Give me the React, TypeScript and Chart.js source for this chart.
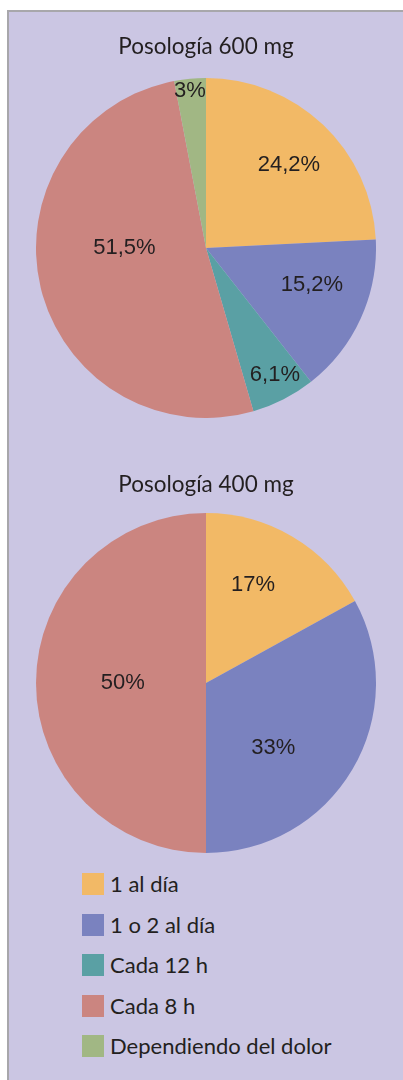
import React, { useEffect, useRef } from "react";
import { Chart, registerables } from "chart.js";

Chart.register(...registerables);

// ---- data ----
const categories = ["1 al día", "1 o 2 al día", "Cada 12 h", "Cada 8 h", "Dependiendo del dolor"];
const values600 = [24.2, 15.2, 6.1, 51.5, 3];
const values400 = [17, 33, 0, 50, 0];
const title600 = "Posología 600 mg";
const title400 = "Posología 400 mg";

// ---- style ----
const colors = ["#f2b966", "#7a82bf", "#5aa0a4", "#cb8580", "#a1b784"];
const textColor = "#231f20";
const bgColor = "#cbc6e3";
// label placement (fraction of radius, angular shift in degrees) – mimics "best fit"
const labelRadius600 = [0.69, 0.66, 0.85, 0.48, 0.93];
const labelShift600 = [1.4, -5.3, -1.3, 13.5, -0.4];
const labelRadius400 = [0.64, 0.55, 0.5, 0.49, 0.5];
const labelShift400 = [-5, 13.4, 0, 0, 0];

const fmt = (v: number) => String(v).replace(".", ",") + "%";

type PieProps = {
  values: number[];
  title: string;
  top: number;
  height: number;
  titlePadBottom: number;
  radii: number[];
  shifts: number[];
};

function Pie({ values, title, top, height, titlePadBottom, radii, shifts }: PieProps) {
  const ref = useRef<HTMLCanvasElement | null>(null);
  useEffect(() => {
    if (!ref.current) return;
    const labelPlugin = {
      id: "pieLabels",
      afterDatasetsDraw(chart: any) {
        const ctx = chart.ctx;
        const meta = chart.getDatasetMeta(0);
        const data = chart.data.datasets[0].data as number[];
        ctx.save();
        ctx.font = "22px 'Liberation Sans', Arial, sans-serif";
        ctx.fillStyle = textColor;
        ctx.textAlign = "center";
        ctx.textBaseline = "middle";
        meta.data.forEach((arc: any, i: number) => {
          const v = data[i];
          if (!v) return;
          const p = arc.getProps(["x", "y", "startAngle", "endAngle", "outerRadius"], true);
          const mid = (p.startAngle + p.endAngle) / 2 + (shifts[i] * Math.PI) / 180;
          const r = p.outerRadius * radii[i];
          ctx.fillText(fmt(v), p.x + Math.cos(mid) * r, p.y + Math.sin(mid) * r);
        });
        ctx.restore();
      },
    };
    const chart = new Chart(ref.current, {
      type: "pie",
      data: {
        labels: categories,
        datasets: [
          {
            data: values,
            backgroundColor: colors,
            borderWidth: 0,
          },
        ],
      },
      options: {
        responsive: false,
        animation: false,
        events: [],
        layout: { padding: 0 },
        plugins: {
          legend: { display: false },
          tooltip: { enabled: false },
          title: {
            display: true,
            text: title,
            color: textColor,
            font: { family: "Lato, 'Open Sans', sans-serif", size: 22.5, weight: "normal" },
            padding: { top: 5, bottom: titlePadBottom },
          },
        },
      },
      plugins: [labelPlugin],
    });
    return () => chart.destroy();
  }, []);
  return (
    <canvas
      ref={ref}
      width={340}
      height={height}
      style={{ position: "absolute", left: 36, top, width: 340, height }}
    />
  );
}

export default function App() {
  useEffect(() => {
    document.body.style.overflow = "hidden";
  }, []);
  return (
    <div
      style={{
        position: "absolute",
        left: 0,
        top: 0,
        width: 403,
        height: 1080,
        overflow: "hidden",
        background: "#ffffff",
      }}
    >
      <div
        style={{
          position: "absolute",
          left: 7,
          top: 10,
          width: 396,
          height: 1070,
          boxSizing: "border-box",
          background: bgColor,
          borderTop: "2px solid #a8a7ab",
          borderLeft: "2px solid #a8a7ab",
        }}
      />
      <Pie
        values={values600}
        title={title600}
        top={28}
        height={390}
        titlePadBottom={18}
        radii={labelRadius600}
        shifts={labelShift600}
      />
      <Pie
        values={values400}
        title={title400}
        top={466}
        height={387}
        titlePadBottom={15}
        radii={labelRadius400}
        shifts={labelShift400}
      />
      <div style={{ position: "absolute", left: 82, top: 873 }}>
        {categories.map((c, i) => (
          <div
            key={c}
            style={{
              display: "flex",
              alignItems: "center",
              height: 22,
              marginBottom: 18.5,
              fontFamily: "Lato, 'Open Sans', sans-serif",
              fontSize: 22,
              color: textColor,
              whiteSpace: "nowrap",
            }}
          >
            <span
              style={{
                display: "inline-block",
                width: 22,
                height: 22,
                background: colors[i],
                marginRight: 6,
                flex: "none",
              }}
            />
            <span style={{ lineHeight: "22px" }}>{c}</span>
          </div>
        ))}
      </div>
    </div>
  );
}
